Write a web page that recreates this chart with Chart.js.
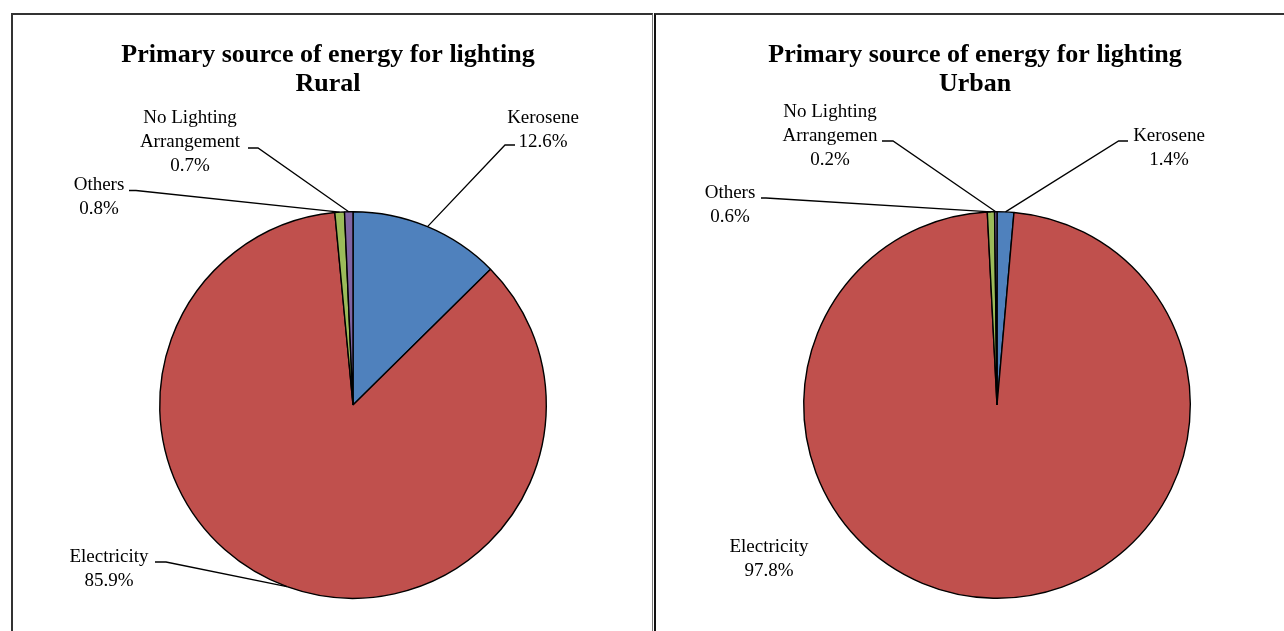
<!DOCTYPE html>
<html>
<head>
<meta charset="utf-8">
<script src="https://cdn.jsdelivr.net/npm/chart.js@4"></script>
<style>
  body { margin: 0; background: #fff; width: 1284px; height: 631px; overflow: hidden; position: relative; }
  .panel { position: absolute; box-sizing: border-box; height: 660px; }
  #leftPanel { left: 11px; top: 13px; width: 642px; border-top: 2px solid #333; border-left: 2px solid #333; border-right: 1px solid #777; }
  #rightPanel { left: 654px; top: 13px; width: 640px; border-top: 2px solid #333; border-left: 2px solid #111; }
  canvas { position: absolute; }
</style>
</head>
<body>
<div class="panel" id="leftPanel"></div>
<div class="panel" id="rightPanel"></div>
<canvas id="ruralChart" width="638" height="616" style="left:13px;top:15px;width:638px;height:616px"></canvas>
<canvas id="urbanChart" width="628" height="616" style="left:656px;top:15px;width:628px;height:616px"></canvas>
<script>
// slices, clockwise from 12 o'clock
const categories = ["Kerosene", "Electricity", "Others", "No Lighting Arrangement"];
const ruralValues = [12.6, 85.9, 0.8, 0.7];
const urbanValues = [1.4, 97.8, 0.6, 0.2];
const ruralNames = ["Kerosene", "Electricity", "Others", "No Lighting\nArrangement"];
const urbanNames = ["Kerosene", "Electricity", "Others", "No Lighting\nArrangemen"];
const sliceColors = ["#4F81BD", "#C0504D", "#9BBB59", "#8064A2"];

const serif = '"Liberation Serif", "Times New Roman", serif';

// title + data labels with leader lines, placed relative to the pie centre
const pieLabels = {
  id: "pieLabels",
  afterDatasetsDraw(chart, args, opts) {
    const ctx = chart.ctx;
    const meta = chart.getDatasetMeta(0);
    const values = chart.data.datasets[0].data;
    const cx = meta.data[0].x, cy = meta.data[0].y;
    ctx.save();
    ctx.fillStyle = "#000";
    ctx.strokeStyle = "#000";
    ctx.lineWidth = 1.3;
    ctx.textAlign = "center";
    ctx.textBaseline = "alphabetic";

    ctx.font = "bold 26px " + serif;
    opts.title.forEach((line, i) => ctx.fillText(line, cx + opts.titleDx, cy + opts.titleDy + i * 29));

    ctx.font = "19px " + serif;
    meta.data.forEach((arc, i) => {
      const p = opts.places[i];
      const lines = opts.names[i].split("\n").concat(values[i].toFixed(1) + "%");
      lines.forEach((line, j) => ctx.fillText(line, cx + p.tx, cy + p.ty + j * 24));
      if (!p.stub) return;
      const {x, y, startAngle, endAngle, outerRadius} =
        arc.getProps(["x", "y", "startAngle", "endAngle", "outerRadius"], true);
      const mid = (startAngle + endAngle) / 2;
      ctx.beginPath();
      ctx.moveTo(cx + p.stub[0], cy + p.stub[2]);
      ctx.lineTo(cx + p.stub[1], cy + p.stub[2]);
      ctx.lineTo(x + outerRadius * Math.cos(mid), y + outerRadius * Math.sin(mid));
      ctx.stroke();
    });
    ctx.restore();
  }
};

function makePie(id, values, names, title, padding, titleDx, places) {
  return new Chart(document.getElementById(id), {
    type: "pie",
    data: {
      labels: categories,
      datasets: [{
        data: values,
        backgroundColor: sliceColors,
        borderColor: "#000",
        borderWidth: 1.4
      }]
    },
    options: {
      responsive: false,
      devicePixelRatio: 1,
      animation: false,
      layout: { padding },
      plugins: {
        legend: { display: false },
        tooltip: { enabled: false },
        pieLabels: { title, titleDx, titleDy: -343, names, places }
      }
    },
    plugins: [pieLabels]
  });
}

makePie("ruralChart", ruralValues, ruralNames,
  ["Primary source of energy for lighting", "Rural"],
  { left: 146, right: 104, top: 196, bottom: 32 }, -25,
  [
    { tx: 190, ty: -282, stub: [162, 152, -260] },
    { tx: -244, ty: 157, stub: [-198, -187, 157] },
    { tx: -254, ty: -215, stub: [-224, -217, -214.5] },
    { tx: -163, ty: -282, stub: [-105, -95, -257] }
  ]);

makePie("urbanChart", urbanValues, urbanNames,
  ["Primary source of energy for lighting", "Urban"],
  { left: 147, right: 93, top: 196, bottom: 32 }, -22,
  [
    { tx: 172, ty: -264, stub: [131, 121.6, -264] },
    { tx: -228, ty: 147, stub: null },
    { tx: -267, ty: -207, stub: [-236, -231, -207] },
    { tx: -167, ty: -288, stub: [-115, -104, -264] }
  ]);
</script>
</body>
</html>
